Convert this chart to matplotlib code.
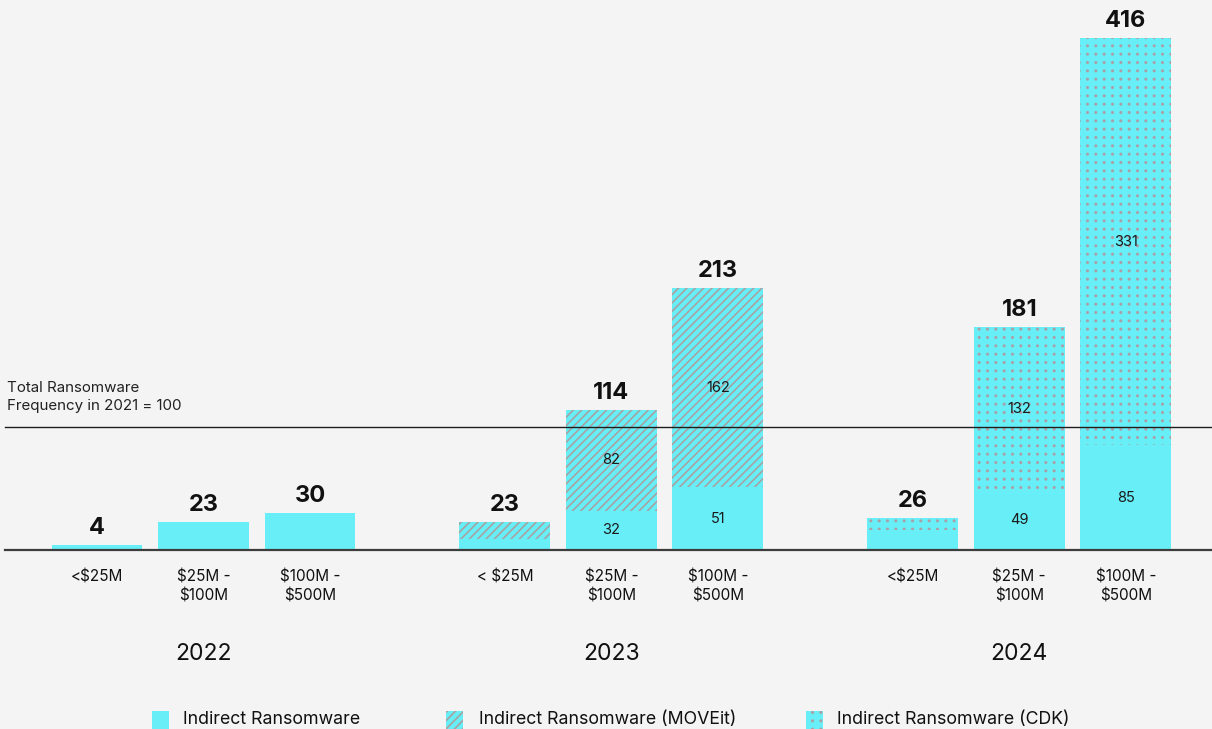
import numpy as np
import matplotlib
matplotlib.use("Agg")
import matplotlib.pyplot as plt
import matplotlib.hatch as mhatch
from matplotlib.path import Path
from matplotlib.patches import Rectangle

# ---- data -------------------------------------------------------------
years = ["2022", "2023", "2024"]
size_labels = [
    "<$25M", "$25M -\n$100M", "$100M -\n$500M",
    "< $25M", "$25M -\n$100M", "$100M -\n$500M",
    "<$25M", "$25M -\n$100M", "$100M -\n$500M",
]
indirect = [4, 23, 30, 9, 32, 51, 16, 49, 85]
moveit = [0, 0, 0, 14, 82, 162, 0, 0, 0]
cdk = [0, 0, 0, 0, 0, 0, 10, 132, 331]
totals = [4, 23, 30, 23, 114, 213, 26, 181, 416]
show_parts = [False, False, False, False, True, True, False, True, True]
baseline_value = 100

legend_labels = ["Indirect Ransomware", "Indirect Ransomware (MOVEit)",
                 "Indirect Ransomware (CDK)"]

# ---- styling ----------------------------------------------------------
BG = "#f4f4f4"
CYAN = "#68eef6"
HATCH_GREY = "#a6a3a5"
DOT_GREY = "#ab9ea6"
FONT = ["Inter", "DejaVu Sans"]

plt.rcParams["font.family"] = FONT
plt.rcParams["hatch.linewidth"] = 1.2


class GridDots(mhatch.Shapes):
    """Filled dots laid out on a square grid (replaces the '.' hatch)."""
    size = 0.08
    filled = True

    def __init__(self, hatch, density):
        path = Path.unit_circle()
        self.shape_vertices = path.vertices
        self.shape_codes = path.codes
        self.num_rows = hatch.count(".") * density
        n = self.num_rows
        self.num_shapes = n * n
        self.num_vertices = self.num_shapes * len(self.shape_vertices)

    def set_vertices_and_codes(self, vertices, codes):
        offset = 1.0 / self.num_rows
        shape = self.shape_vertices * offset * self.size
        k = len(shape)
        cur = 0
        for r in range(self.num_rows):
            for c in range(self.num_rows):
                vertices[cur:cur + k] = shape + ((c + 0.5) * offset,
                                                 (r + 0.5) * offset)
                codes[cur:cur + k] = self.shape_codes
                cur += k


mhatch._hatch_types = [t for t in mhatch._hatch_types
                       if t is not mhatch.SmallFilledCircles] + [GridDots]

# ---- figure -----------------------------------------------------------
fig = plt.figure(figsize=(12.12, 7.29), dpi=100, facecolor=BG)
ax = fig.add_axes([0, 0, 1, 1])
ax.set_facecolor(BG)
ax.axis("off")

group_step = 3.83
x = np.array([g * group_step + j for g in range(3) for j in range(3)])
width = 0.854

indirect = np.array(indirect)
moveit = np.array(moveit)
cdk = np.array(cdk)

ax.bar(x, indirect, width, color=CYAN, linewidth=0, zorder=2)
ax.bar(x, moveit, width, bottom=indirect, color=CYAN, edgecolor=HATCH_GREY,
       hatch="////", linewidth=0, zorder=2)
ax.bar(x, cdk, width, bottom=indirect + moveit, color=CYAN,
       edgecolor=DOT_GREY, hatch="..", linewidth=0, zorder=2)

# reference lines
ax.axhline(0, xmin=5 / 1212, xmax=1, color="#3c3c3c", lw=1.6, zorder=3)
ax.axhline(baseline_value, xmin=5 / 1212, xmax=1, color="#1e1e1e", lw=1.0,
           zorder=3)
ax.annotate("Total Ransomware\nFrequency in 2021 = 100",
            xy=(5 / 1212, baseline_value), xycoords=("axes fraction", "data"),
            xytext=(1.5, 10), textcoords="offset points", ha="left",
            va="bottom", fontsize=10.9, color="#222222", linespacing=1.4)

# totals above bars
for xi, t in zip(x, totals):
    ax.annotate(f"{t}", xy=(xi, t), xytext=(0, 8), textcoords="offset points",
                ha="center", va="baseline", fontsize=17, fontweight="bold",
                color="#111111")

# segment values inside the larger bars
for xi, a, m, c, show in zip(x, indirect, moveit, cdk, show_parts):
    if not show:
        continue
    ax.text(xi, a / 2, f"{a}", ha="center", va="center", fontsize=10.5,
            color="#1a1a1a", zorder=4)
    top = m if m else c
    ax.text(xi, a + top / 2, f"{top}", ha="center", va="center",
            fontsize=10.5, color="#1a1a1a", zorder=4)

# size-band labels under each bar
for xi, lab in zip(x, size_labels):
    ax.annotate(lab, xy=(xi, 0), xytext=(0, -14), textcoords="offset points",
                ha="center", va="top", fontsize=11, color="#111111",
                linespacing=1.3)

# year labels
for g, yr in enumerate(years):
    ax.annotate(yr, xy=(x[g * 3 + 1], 0), xytext=(0, -75),
                textcoords="offset points", ha="center", va="center",
                fontsize=16.5, color="#111111")

ax.set_xlim(-0.911, -0.911 + 1212 / 106.5)
ax.set_ylim(-179 / 1.23, 550 / 1.23)

# legend along the bottom edge
W, H = 1212.0, 729.0
legend_items = [
    (152, 183, dict(facecolor=CYAN, linewidth=0)),
    (446, 479, dict(facecolor=CYAN, edgecolor=HATCH_GREY, hatch="////",
                    linewidth=0)),
    (806, 837, dict(facecolor=CYAN, edgecolor=DOT_GREY, hatch="..",
                    linewidth=0)),
]
for (px, tx, style), lab in zip(legend_items, legend_labels):
    fig.patches.append(Rectangle((px / W, -2 / H), 17 / W, 20 / H,
                                 transform=fig.transFigure, **style))
    fig.text(tx / W, 10 / H, lab, ha="left", va="center", fontsize=12.8,
             color="#111111")

fig.savefig("out.png", dpi=100, facecolor=BG)
